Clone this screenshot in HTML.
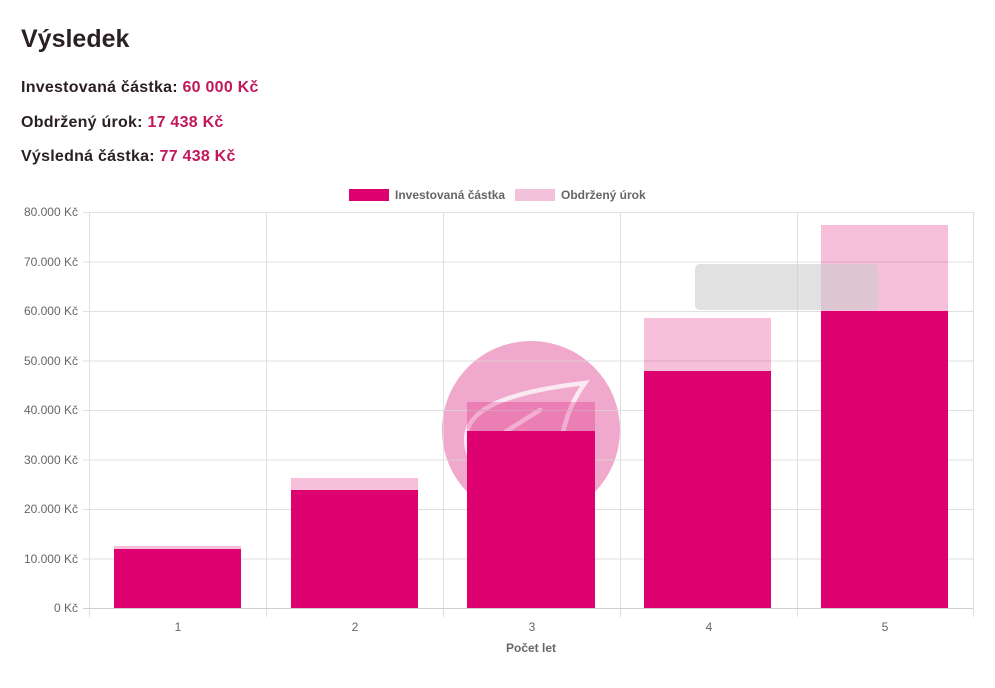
<!DOCTYPE html>
<html><head><meta charset="utf-8"><style>
html,body{margin:0;padding:0;background:#fff;width:995px;height:688px;overflow:hidden}
.h{position:absolute;left:21px;font-family:"Liberation Sans",sans-serif;color:#2a1f24}
.v{color:#c2185b}
</style></head><body>
<div class="h" style="top:25px;font-size:25px;font-weight:bold">Výsledek</div>
<div class="h" style="top:79px;font-size:16px;font-weight:bold;letter-spacing:0.25px">Investovaná částka: <span class="v">60 000 Kč</span></div>
<div class="h" style="top:114px;font-size:16px;font-weight:bold;letter-spacing:0.25px">Obdržený úrok: <span class="v">17 438 Kč</span></div>
<div class="h" style="top:148px;font-size:16px;font-weight:bold;letter-spacing:0.25px">Výsledná částka: <span class="v">77 438 Kč</span></div>
<svg width="995" height="688" style="position:absolute;left:0;top:0" font-family="Liberation Sans, sans-serif">
<circle cx="531" cy="430" r="89" fill="#f0a8cc"/>
<path d="M470 458 C455 420 480 395 585 383 C572 400 562 425 558 460 M505 432 L540 410" stroke="#fff" stroke-width="4.5" fill="none" opacity="0.75" stroke-linecap="round"/>
<g stroke="#d8d8d8" stroke-width="1" opacity="0.8">
<line x1="83" y1="212.5" x2="973" y2="212.5"/><line x1="83" y1="262" x2="973" y2="262"/><line x1="83" y1="311.5" x2="973" y2="311.5"/><line x1="83" y1="361" x2="973" y2="361"/><line x1="83" y1="410.5" x2="973" y2="410.5"/><line x1="83" y1="460" x2="973" y2="460"/><line x1="83" y1="509.5" x2="973" y2="509.5"/><line x1="83" y1="559" x2="973" y2="559"/>
<line x1="89.5" y1="212" x2="89.5" y2="617"/><line x1="266.5" y1="212" x2="266.5" y2="617"/><line x1="443.5" y1="212" x2="443.5" y2="617"/><line x1="620.5" y1="212" x2="620.5" y2="617"/><line x1="797.5" y1="212" x2="797.5" y2="617"/><line x1="973.5" y1="212" x2="973.5" y2="617"/>
</g>
<line x1="83" y1="608.5" x2="973" y2="608.5" stroke="#d0d0d0"/>
<g font-size="12" fill="#666" text-anchor="end">
<text x="78" y="216">80.000 Kč</text><text x="78" y="266">70.000 Kč</text><text x="78" y="315">60.000 Kč</text><text x="78" y="365">50.000 Kč</text><text x="78" y="414">40.000 Kč</text><text x="78" y="464">30.000 Kč</text><text x="78" y="513">20.000 Kč</text><text x="78" y="563">10.000 Kč</text><text x="78" y="612">0 Kč</text>
</g>
<g font-size="12" fill="#666" text-anchor="middle">
<text x="178" y="631">1</text><text x="355" y="631">2</text><text x="532" y="631">3</text><text x="709" y="631">4</text><text x="885" y="631">5</text>
<text x="531" y="652" font-weight="bold">Počet let</text>
</g>
<rect x="349" y="189" width="40" height="12" fill="#dd0270"/>
<text x="395" y="199" font-size="12" font-weight="bold" fill="#666">Investovaná částka</text>
<rect x="515" y="189" width="40" height="12" fill="#f2c1da"/>
<text x="561" y="199" font-size="12" font-weight="bold" fill="#666">Obdržený úrok</text>
<g fill="#dd0270" fill-opacity="0.25">
<rect x="114" y="546" width="127" height="3"/><rect x="291" y="478" width="127" height="12"/><rect x="467" y="402" width="128" height="29"/><rect x="644" y="318" width="127" height="53"/><rect x="821" y="225" width="127" height="86"/>
</g>
<g fill="#dd0270">
<rect x="114" y="549" width="127" height="59"/><rect x="291" y="490" width="127" height="118"/><rect x="467" y="431" width="128" height="177"/><rect x="644" y="371" width="127" height="237"/><rect x="821" y="311" width="127" height="297"/>
</g>
<rect x="695" y="264" width="183" height="46" rx="5" fill="#c8c8c8" opacity="0.55"/>
</svg>
</body></html>
